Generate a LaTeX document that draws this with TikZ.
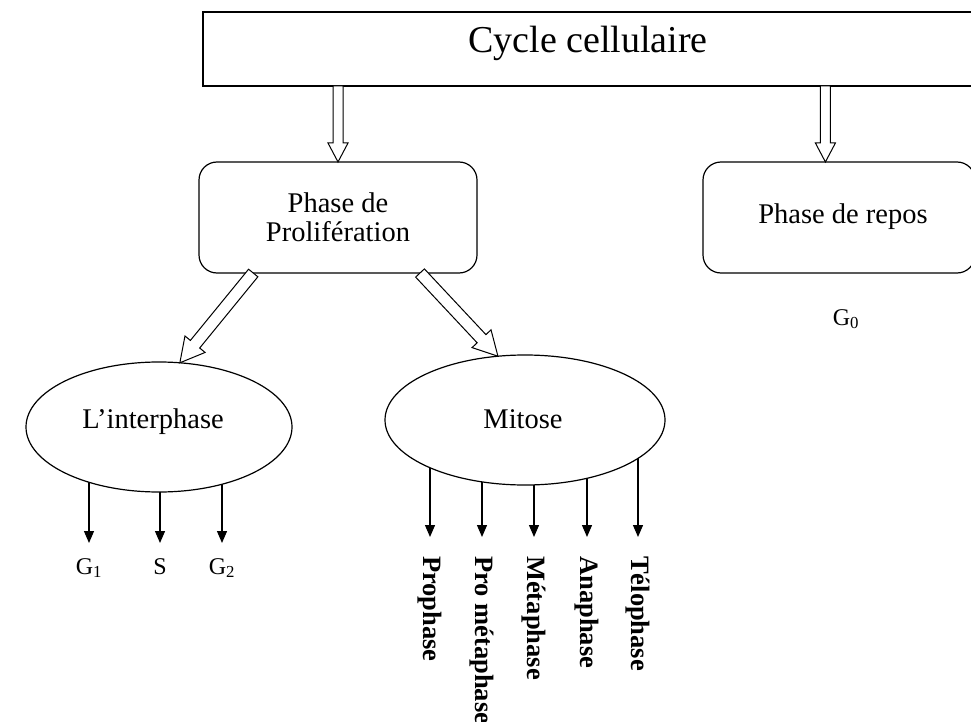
\documentclass[tikz,border=0pt]{standalone}
\usepackage{fontspec}
\setmainfont{Liberation Serif}
\usetikzlibrary{arrows.meta,calc,shapes.geometric,backgrounds}
% hollow block arrow: #1 from, #2 to, #3 half shaft width, #4 half head width, #5 head length
\newcommand\hollowarrow[5]{%
  \coordinate (ha) at (#1);
  \coordinate (hb) at (#2);
  \coordinate (hh) at ($(hb)!#5!(ha)$);
  \draw[hollowline] ($(ha)!#3!90:(hb)$) -- ($(hh)!#3!-90:(ha)$) -- ($(hh)!#4!-90:(ha)$)
    -- (hb) -- ($(hh)!#4!90:(ha)$) -- ($(hh)!#3!90:(ha)$) -- ($(ha)!#3!-90:(hb)$) -- cycle;
}
\begin{document}
\begin{tikzpicture}[x=1pt,y=-1pt,
  box/.style={draw, line width=1.2pt, inner sep=0pt, outer sep=0pt},
  rbox/.style={box, rounded corners=18pt},
  ell/.style={draw, ellipse, fill=white, line width=1.2pt, inner sep=0pt, outer sep=0pt},
  txt/.style={font=\fontsize{28.5}{30}\selectfont, inner sep=0pt},
  glab/.style={font=\fontsize{24}{26}\selectfont, anchor=north, inner xsep=0pt, inner ysep=15pt},
  vlab/.style={rotate=-90, anchor=west, font=\fontsize{26.5}{28}\selectfont\bfseries, inner xsep=19pt, inner ysep=0pt},
  sarr/.style={-{Triangle[width=10pt,length=12pt]}, line width=1.3pt},
  hollowline/.style={draw, line width=1pt, fill=white, line join=miter}
]
\useasboundingbox (0,0) rectangle (971,722);
\clip (0,0) rectangle (971,722);

% boxes
\node[box, minimum width=776pt, minimum height=74pt, anchor=north west] (cyc) at (203,12) {};
\node[font=\fontsize{38}{40}\selectfont, anchor=base, inner sep=0pt] (cyctxt) at (588,53) {Cycle cellulaire};

\node[rbox, minimum width=278pt, minimum height=111pt, anchor=north west, align=center,
      font=\fontsize{28.5}{29.5}\selectfont] (prolif) at (199,162) {Phase de\\Prolifération};

\node[rbox, minimum width=272pt, minimum height=111pt, anchor=north west] (repos) at (703,162) {};
\node[txt, anchor=base] (repostxt) at (843,223) {Phase de repos};
\node[font=\fontsize{24}{26}\selectfont, anchor=base, inner sep=0pt] (g0) at (846,325) {G\textsubscript{0}};

% ellipses
\node[ell, minimum width=266pt, minimum height=130pt] (interph) at (159,427) {};
\node[txt, anchor=base] (interphtxt) at (153,428) {L’interphase};
\node[ell, minimum width=280pt, minimum height=130pt] (mit) at (525,420) {};
\node[txt, anchor=base] (mittxt) at (523,428) {Mitose};

% labels under interphase
\node[glab] (g1) at (89,543) {G\textsubscript{1}};
\node[glab] (s) at (160,543) {S};
\node[glab] (g2) at (222,543) {G\textsubscript{2}};

% labels under mitose
\node[vlab] (pro) at (430,537) {Prophase};
\node[vlab] (prom) at (482,537) {Pro métaphase};
\node[vlab] (meta) at (534,537) {Métaphase};
\node[vlab] (ana) at (587,537) {Anaphase};
\node[vlab] (telo) at (638,537) {Télophase};

\begin{scope}[on background layer]
  \foreach \n in {g1,s,g2} \draw[sarr] (interph.center -| \n.north) -- (\n.north);
  \foreach \n in {pro,prom,meta,ana,telo} \draw[sarr] (mit.center -| \n.west) -- (\n.west);
\end{scope}

% hollow arrows
\coordinate (rtop) at ($(repos.north west)!0.45!(repos.north east)$);
\hollowarrow{cyc.south -| prolif.north}{prolif.north}{5pt}{10pt}{19pt}
\hollowarrow{cyc.south -| rtop}{rtop}{5pt}{10pt}{19pt}
\coordinate (pl) at ($(prolif.south west)!0.195!(prolif.south east)$);
\coordinate (pr) at ($(prolif.south west)!0.795!(prolif.south east)$);
\hollowarrow{pl}{interph.72}{6pt}{13pt}{24pt}
\hollowarrow{pr}{mit.113}{6pt}{13pt}{24pt}
\end{tikzpicture}
\end{document}
